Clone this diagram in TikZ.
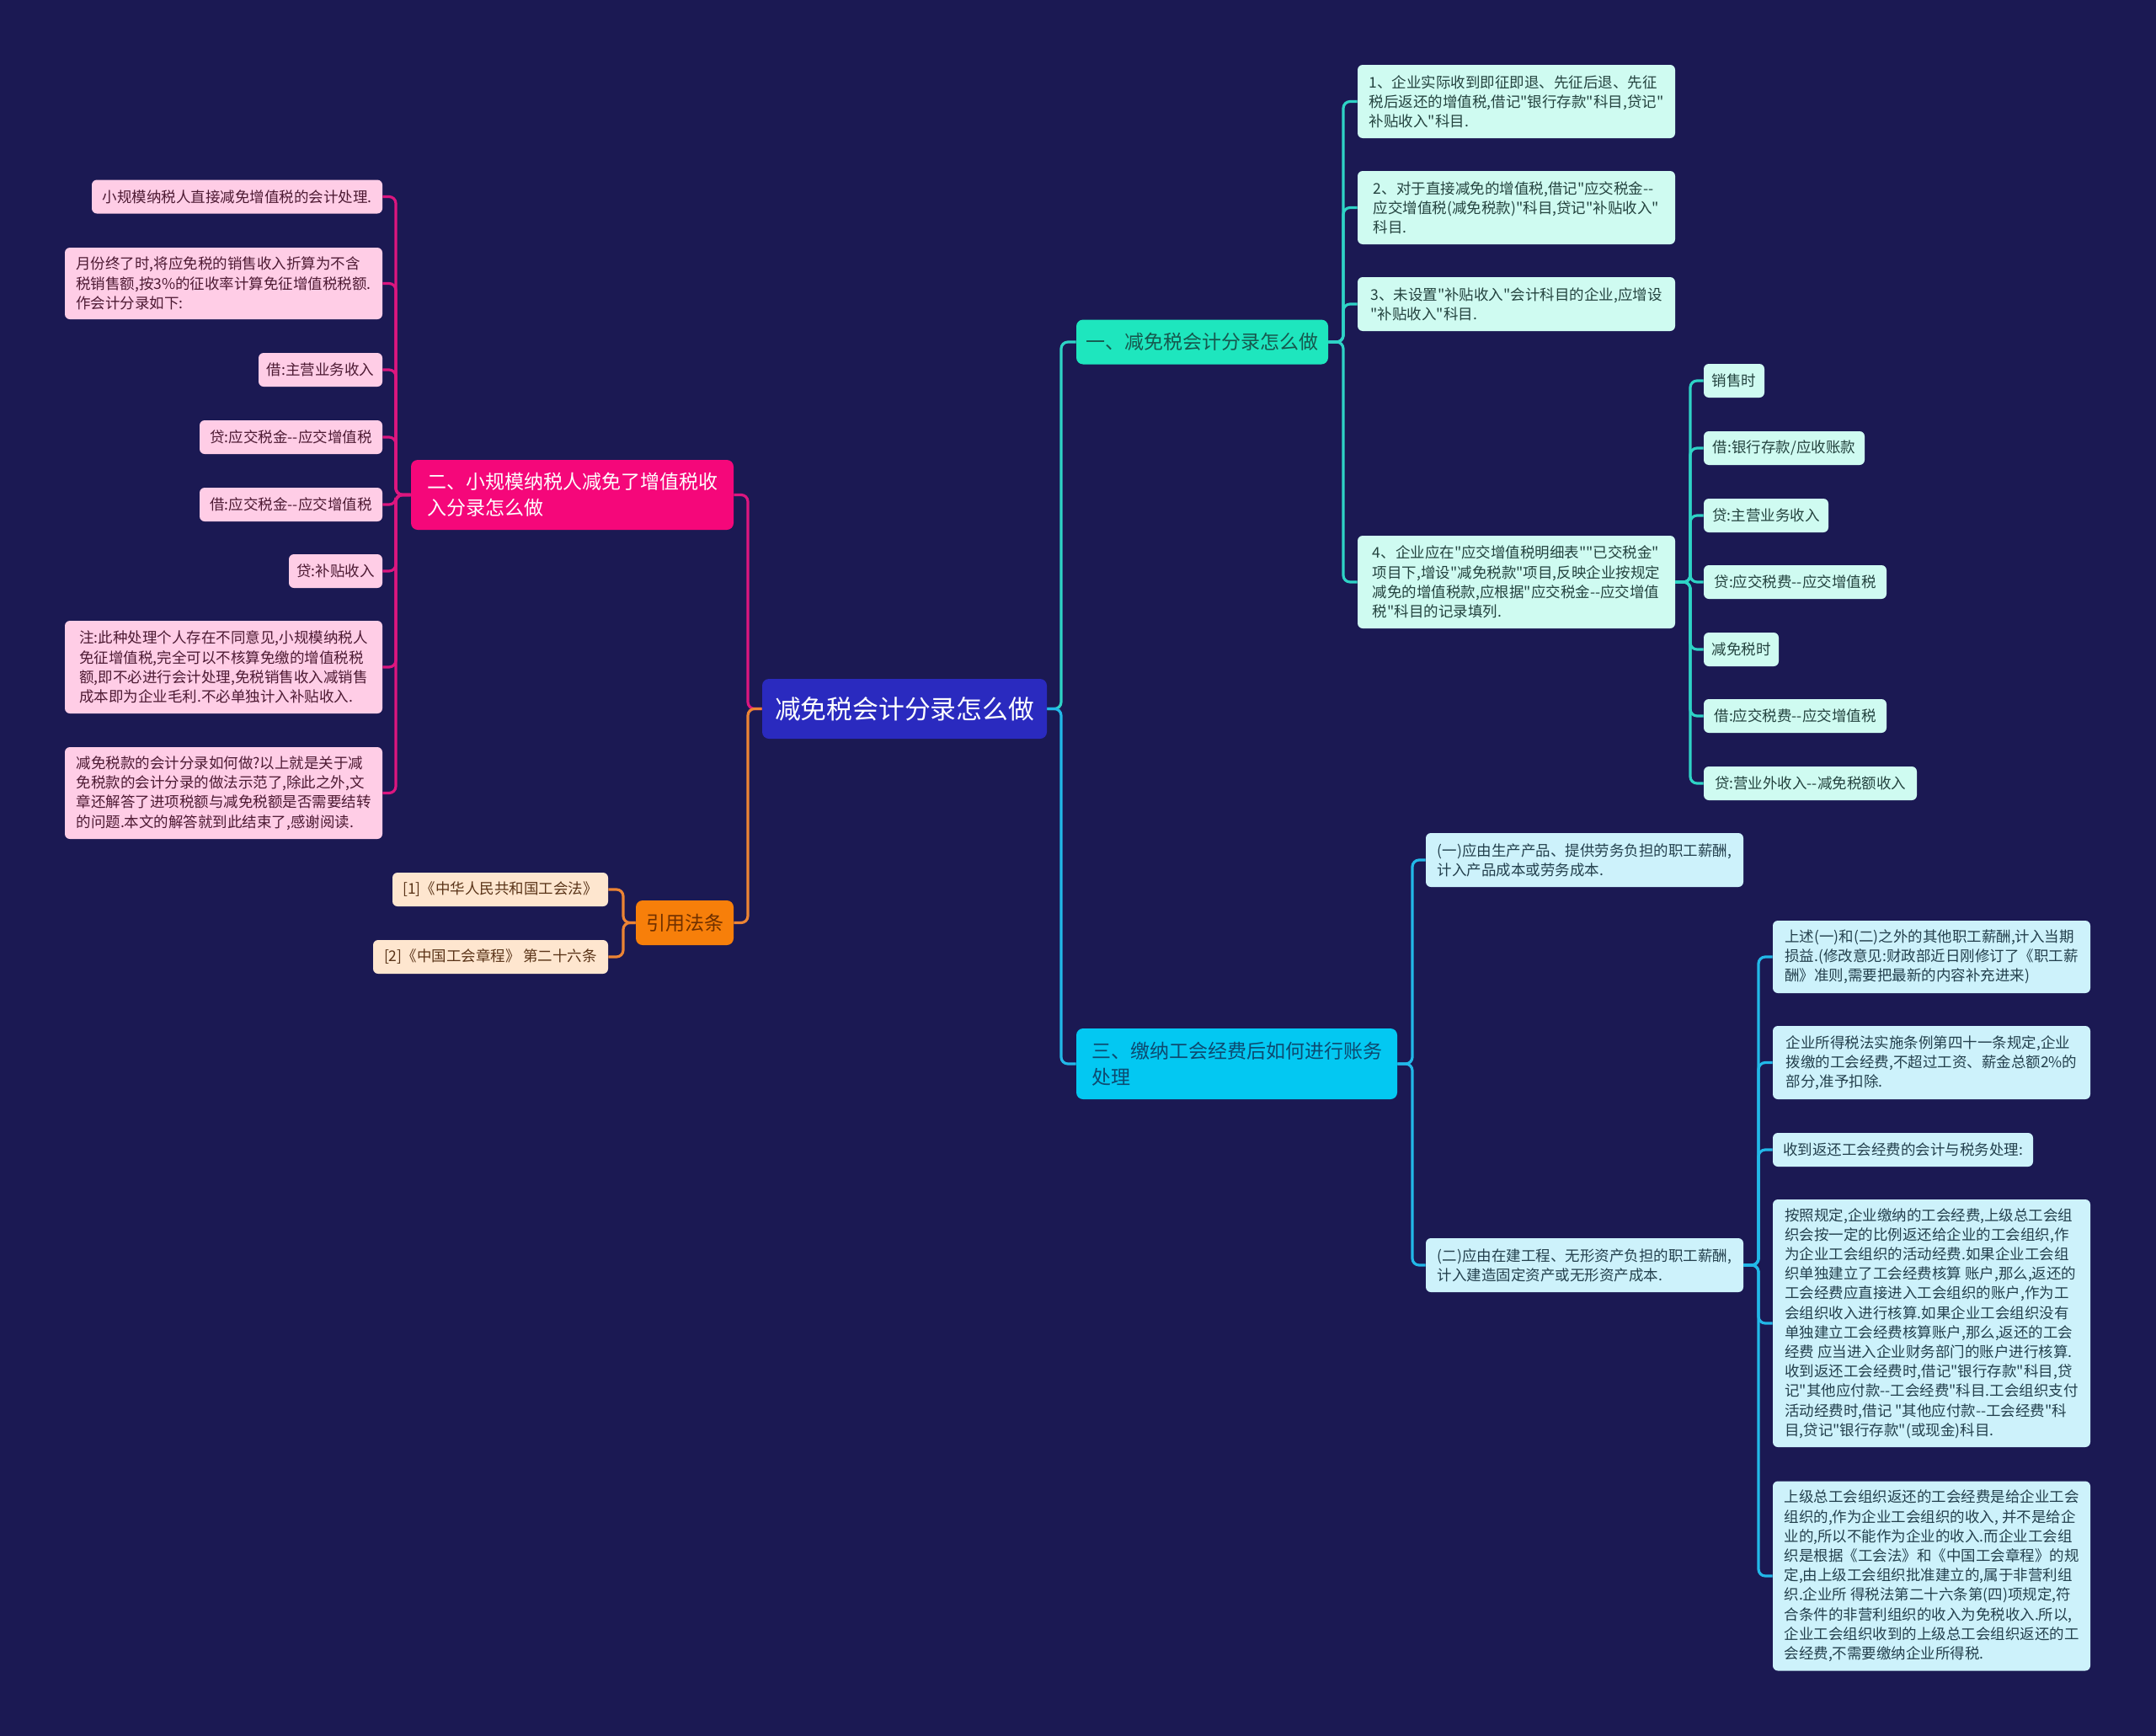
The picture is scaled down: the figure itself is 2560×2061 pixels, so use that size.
\documentclass[tikz,border=0pt]{standalone}
\usepackage{fontspec}
\newfontfamily\cjk{Noto Sans CJK SC}
\newcommand\hh{-\kern0pt-}
\definecolor{bg}{HTML}{1B1953}
\definecolor{cfill}{HTML}{2A2ABF}
\definecolor{lfill}{HTML}{F5077A}
\definecolor{lline}{HTML}{DC167F}
\definecolor{pfill}{HTML}{FFCDE6}
\definecolor{ptext}{HTML}{4D1A33}
\definecolor{ofill}{HTML}{F77F0A}
\definecolor{oline}{HTML}{EC8434}
\definecolor{otext}{HTML}{6E2F00}
\definecolor{qfill}{HTML}{FEE6CF}
\definecolor{qtext}{HTML}{5A3418}
\definecolor{afill}{HTML}{1EE6BE}
\definecolor{aline}{HTML}{2ED3C6}
\definecolor{atext}{HTML}{16584E}
\definecolor{mfill}{HTML}{CFFBF1}
\definecolor{mtext}{HTML}{24433F}
\definecolor{tfill}{HTML}{03C8F2}
\definecolor{tline}{HTML}{22B8E8}
\definecolor{ttext}{HTML}{0D4A70}
\definecolor{sfill}{HTML}{CDF2FB}
\definecolor{stext}{HTML}{23404D}
\tikzset{
  leaf/.style={rounded corners=3pt, inner sep=0pt, align=left, font=\cjk\fontsize{8.75}{11.6}\selectfont},
  pinkleaf/.style={leaf, fill=pfill, text=ptext},
  peachleaf/.style={leaf, fill=qfill, text=qtext},
  mintleaf/.style={leaf, fill=mfill, text=mtext},
  skyleaf/.style={leaf, fill=sfill, text=stext},
  branch/.style={rounded corners=4pt, inner sep=0pt, align=left, font=\cjk\fontsize{11.5}{15.5}\selectfont},
  conn/.style={line width=1.6pt, rounded corners=4pt},
}
\newcommand\bx[7]{\node[#2, minimum width=#5*0.5pt, minimum height=#6*0.5pt] (#1) at (#3,#4) {#7};}
\begin{document}
\begin{tikzpicture}[x=0.5pt,y=-0.5pt]
\fill[bg] (0,0) rectangle (2560,2061);
\useasboundingbox (0,0) rectangle (2560,2061);

% center
\node[rounded corners=4pt, fill=cfill, text=white, font=\cjk\fontsize{15.4}{18}\selectfont, minimum width=169pt, minimum height=35.5pt, inner sep=0pt] (C) at (1074,841.5) {减免税会计分录怎么做};

% main branches
\bx{L}{branch, fill=lfill, text=white}{679.5}{587.5}{383}{83}{二、小规模纳税人减免了增值税收\\入分录怎么做}
\bx{O}{branch, fill=ofill, text=otext}{813}{1095.5}{116}{53}{引用法条}
\bx{A}{branch, fill=afill, text=atext}{1427.5}{406}{299}{53}{一、减免税会计分录怎么做}
\bx{T}{branch, fill=tfill, text=ttext}{1468.5}{1263}{381}{84}{三、缴纳工会经费后如何进行账务\\处理}

% left pink leaves
\bx{P1}{pinkleaf}{281.5}{233.5}{345}{40}{小规模纳税人直接减免增值税的会计处理.}
\bx{P2}{pinkleaf}{265.5}{336.5}{377}{85}{月份终了时,将应免税的销售收入折算为不含\\税销售额,按3\%的征收率计算免征增值税税额.\\作会计分录如下:}
\bx{P3}{pinkleaf}{380.5}{439}{147}{40}{借:主营业务收入}
\bx{P4}{pinkleaf}{345.5}{519}{217}{40}{贷:应交税金\hh{}应交增值税}
\bx{P5}{pinkleaf}{345.5}{599}{217}{40}{借:应交税金\hh{}应交增值税}
\bx{P6}{pinkleaf}{398.5}{678}{111}{40}{贷:补贴收入}
\bx{P7}{pinkleaf}{265.5}{792}{377}{110}{注:此种处理个人存在不同意见,小规模纳税人\\免征增值税,完全可以不核算免缴的增值税税\\额,即不必进行会计处理,免税销售收入减销售\\成本即为企业毛利.不必单独计入补贴收入.}
\bx{P8}{pinkleaf}{265.5}{941.5}{377}{109}{减免税款的会计分录如何做?以上就是关于减\\免税款的会计分录的做法示范了,除此之外,文\\章还解答了进项税额与减免税额是否需要结转\\的问题.本文的解答就到此结束了,感谢阅读.}

% orange leaves
\bx{O1}{peachleaf}{594}{1056}{256}{40}{[1]《中华人民共和国工会法》}
\bx{O2}{peachleaf}{582.5}{1136}{279}{40}{[2]《中国工会章程》 第二十六条}

% branch one leaves
\bx{A1}{mintleaf}{1800.5}{120.5}{377}{87}{1、企业实际收到即征即退、先征后退、先征\\税后返还的增值税,借记"银行存款"科目,贷记"\\补贴收入"科目.}
\bx{A2}{mintleaf}{1800.5}{246.5}{377}{87}{2、对于直接减免的增值税,借记"应交税金\hh{}\\应交增值税(减免税款)"科目,贷记"补贴收入"\\科目.}
\bx{A3}{mintleaf}{1800.5}{361}{377}{64}{3、未设置"补贴收入"会计科目的企业,应增设\\"补贴收入"科目.}
\bx{A4}{mintleaf}{1800.5}{691}{377}{110}{4、企业应在"应交增值税明细表""已交税金"\\项目下,增设"减免税款"项目,反映企业按规定\\减免的增值税款,应根据"应交税金\hh{}应交增值\\税"科目的记录填列.}

\bx{B1}{mintleaf}{2059}{452}{72}{40}{销售时}
\bx{B2}{mintleaf}{2118.5}{532}{191}{40}{借:银行存款/应收账款}
\bx{B3}{mintleaf}{2097}{612}{148}{40}{贷:主营业务收入}
\bx{B4}{mintleaf}{2131.5}{691}{217}{40}{贷:应交税费\hh{}应交增值税}
\bx{B5}{mintleaf}{2067.5}{771}{89}{40}{减免税时}
\bx{B6}{mintleaf}{2131.5}{850}{217}{40}{借:应交税费\hh{}应交增值税}
\bx{B7}{mintleaf}{2149.5}{930}{253}{40}{贷:营业外收入\hh{}减免税额收入}

% branch three leaves
\bx{T1}{skyleaf}{1881.5}{1021}{377}{64}{(一)应由生产产品、提供劳务负担的职工薪酬,\\计入产品成本或劳务成本.}
\bx{T2}{skyleaf}{1881.5}{1502}{377}{64}{(二)应由在建工程、无形资产负担的职工薪酬,\\计入建造固定资产或无形资产成本.}

\bx{U1}{skyleaf}{2293.5}{1136}{377}{86}{上述(一)和(二)之外的其他职工薪酬,计入当期\\损益.(修改意见:财政部近日刚修订了《职工薪\\酬》准则,需要把最新的内容补充进来)}
\bx{U2}{skyleaf}{2293.5}{1261.5}{377}{87}{企业所得税法实施条例第四十一条规定,企业\\拨缴的工会经费,不超过工资、薪金总额2\%的\\部分,准予扣除.}
\bx{U3}{skyleaf}{2259.5}{1365}{309}{40}{收到返还工会经费的会计与税务处理:}
\bx{U4}{skyleaf}{2293.5}{1571}{377}{294}{按照规定,企业缴纳的工会经费,上级总工会组\\织会按一定的比例返还给企业的工会组织,作\\为企业工会组织的活动经费.如果企业工会组\\织单独建立了工会经费核算 账户,那么,返还的\\工会经费应直接进入工会组织的账户,作为工\\会组织收入进行核算.如果企业工会组织没有\\单独建立工会经费核算账户,那么,返还的工会\\经费 应当进入企业财务部门的账户进行核算.\\收到返还工会经费时,借记"银行存款"科目,贷\\记"其他应付款\hh{}工会经费"科目.工会组织支付\\活动经费时,借记 "其他应付款\hh{}工会经费"科\\目,贷记"银行存款"(或现金)科目.}
\bx{U5}{skyleaf}{2293.5}{1871}{377}{225}{上级总工会组织返还的工会经费是给企业工会\\组织的,作为企业工会组织的收入, 并不是给企\\业的,所以不能作为企业的收入.而企业工会组\\织是根据《工会法》和《中国工会章程》的规\\定,由上级工会组织批准建立的,属于非营利组\\织.企业所 得税法第二十六条第(四)项规定,符\\合条件的非营利组织的收入为免税收入.所以,\\企业工会组织收到的上级总工会组织返还的工\\会经费,不需要缴纳企业所得税.}

% connectors: center to branches
\draw[conn, lline] (C.west) -- (888,841.5) |- (L.east);
\draw[conn, oline] (C.west) -- (888,841.5) |- (O.east);
\draw[conn, aline] (C.east) -- (1260,841.5) |- (A.west);
\draw[conn, tline] (C.east) -- (1260,841.5) |- (T.west);

% L to pink leaves
\foreach \n in {P1,P2,P3,P4,P5,P6,P7,P8}
  \draw[conn, lline] (L.west) -- (470,587.5) |- (\n.east);
% O to peach leaves
\foreach \n in {O1,O2}
  \draw[conn, oline] (O.west) -- (740,1095.5) |- (\n.east);
% A to leaves
\foreach \n in {A1,A2,A3,A4}
  \draw[conn, aline] (A.east) -- (1595,406) |- (\n.west);
\foreach \n in {B1,B2,B3,B4,B5,B6,B7}
  \draw[conn, aline] (A4.east) -- (2007,691) |- (\n.west);
% T to leaves
\foreach \n in {T1,T2}
  \draw[conn, tline] (T.east) -- (1677,1263) |- (\n.west);
\foreach \n in {U1,U2,U3,U4,U5}
  \draw[conn, tline] (T2.east) -- (2088,1502) |- (\n.west);
\end{tikzpicture}
\end{document}
